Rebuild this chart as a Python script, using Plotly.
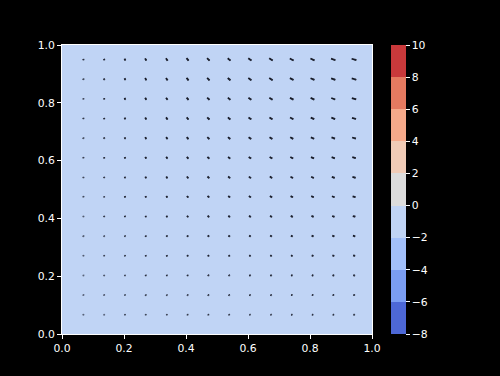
import plotly.graph_objects as go

# ---- data ----
# filled-contour field value (uniform band between -2 and 0)
field_x = [0.0, 1.0]
field_y = [0.0, 1.0]
field_z = [[-1.0, -1.0], [-1.0, -1.0]]

level_bounds = [-8, -6, -4, -2, 0, 2, 4, 6, 8, 10]
level_colors = ["#4d68d6", "#7b9ef2", "#a2c0fa", "#c0d4f5", "#dcdcdc",
                "#f0cbb6", "#f5a98a", "#e57a60", "#c9393b"]
cbar_ticks = [-8, -6, -4, -2, 0, 2, 4, 6, 8, 10]
axis_ticks = [0.0, 0.2, 0.4, 0.6, 0.8, 1.0]

# quiver grid (arrow centres)
grid_x = [0.069, 0.136, 0.203, 0.270, 0.338, 0.405, 0.472,
          0.539, 0.606, 0.674, 0.741, 0.808, 0.875, 0.942]
grid_y = [0.067, 0.135, 0.203, 0.271, 0.339, 0.407, 0.475,
          0.542, 0.610, 0.678, 0.746, 0.814, 0.882, 0.950]

# vector components, rows from bottom (y=0.067) to top (y=0.95)
u = [
    [0.0, 0.1, 0.2, 0.2, 0.3, 0.4, 0.5, 0.6, 0.6, 0.7, 0.8, 0.8, 0.9, 1.0],
    [0.1, 0.1, 0.2, 0.3, 0.4, 0.5, 0.6, 0.7, 0.8, 0.9, 1.0, 1.0, 1.1, 1.2],
    [0.1, 0.1, 0.2, 0.4, 0.5, 0.6, 0.8, 0.8, 1.0, 1.1, 1.1, 1.2, 1.3, 1.4],
    [0.1, 0.2, 0.3, 0.5, 0.6, 0.8, 1.0, 1.1, 1.2, 1.3, 1.4, 1.6, 1.7, 1.8],
    [0.1, 0.2, 0.4, 0.5, 0.8, 0.9, 1.1, 1.3, 1.4, 1.6, 1.7, 1.8, 2.0, 2.2],
    [0.1, 0.2, 0.4, 0.6, 0.9, 1.1, 1.3, 1.5, 1.7, 1.8, 2.0, 2.1, 2.3, 2.5],
    [0.1, 0.2, 0.5, 0.7, 1.0, 1.3, 1.5, 1.7, 1.9, 2.1, 2.3, 2.5, 2.6, 2.9],
    [0.1, 0.3, 0.5, 0.8, 1.1, 1.4, 1.7, 1.9, 2.1, 2.3, 2.5, 2.7, 2.9, 3.2],
    [0.1, 0.3, 0.6, 0.9, 1.2, 1.5, 1.8, 2.0, 2.3, 2.6, 2.8, 3.0, 3.2, 3.5],
    [0.2, 0.3, 0.6, 1.0, 1.4, 1.7, 2.0, 2.2, 2.6, 2.8, 3.0, 3.3, 3.5, 3.8],
    [0.2, 0.3, 0.7, 1.0, 1.5, 1.8, 2.2, 2.4, 2.8, 3.0, 3.3, 3.5, 3.8, 4.1],
    [0.2, 0.4, 0.7, 1.1, 1.5, 1.9, 2.3, 2.5, 2.9, 3.2, 3.5, 3.7, 4.0, 4.4],
    [0.2, 0.4, 0.8, 1.2, 1.6, 2.0, 2.4, 2.7, 3.1, 3.4, 3.6, 3.9, 4.2, 4.6],
    [0.2, 0.4, 0.8, 1.2, 1.7, 2.1, 2.5, 2.8, 3.2, 3.5, 3.8, 4.1, 4.4, 4.8],
]
v = [
    [-0.2, -0.2, -0.4, -0.4, -0.5, -0.5, -0.5, -0.5, -0.4, -0.4, -0.4, -0.4, -0.3, -0.3],
    [-0.2, -0.3, -0.5, -0.6, -0.6, -0.6, -0.6, -0.6, -0.6, -0.6, -0.5, -0.5, -0.4, -0.4],
    [-0.2, -0.4, -0.5, -0.7, -0.7, -0.8, -0.8, -0.7, -0.7, -0.7, -0.6, -0.5, -0.5, -0.4],
    [-0.3, -0.5, -0.7, -0.8, -0.9, -1.0, -1.0, -0.9, -0.8, -0.8, -0.8, -0.7, -0.6, -0.5],
    [-0.4, -0.5, -0.8, -1.0, -1.1, -1.1, -1.1, -1.1, -1.0, -1.0, -0.9, -0.8, -0.7, -0.6],
    [-0.4, -0.6, -0.9, -1.1, -1.2, -1.3, -1.3, -1.2, -1.1, -1.1, -1.0, -0.9, -0.8, -0.7],
    [-0.5, -0.7, -1.1, -1.3, -1.4, -1.5, -1.5, -1.4, -1.3, -1.3, -1.2, -1.1, -1.0, -0.8],
    [-0.5, -0.8, -1.2, -1.5, -1.6, -1.7, -1.7, -1.6, -1.5, -1.5, -1.3, -1.2, -1.1, -0.9],
    [-0.6, -0.9, -1.3, -1.6, -1.8, -1.8, -1.8, -1.8, -1.6, -1.6, -1.5, -1.3, -1.2, -1.0],
    [-0.6, -1.0, -1.4, -1.8, -1.9, -2.0, -2.0, -1.9, -1.8, -1.8, -1.6, -1.4, -1.3, -1.1],
    [-0.7, -1.0, -1.5, -1.9, -2.1, -2.2, -2.2, -2.1, -1.9, -1.9, -1.7, -1.5, -1.4, -1.2],
    [-0.7, -1.1, -1.6, -2.0, -2.2, -2.3, -2.3, -2.2, -2.0, -2.0, -1.8, -1.6, -1.5, -1.3],
    [-0.8, -1.2, -1.7, -2.1, -2.3, -2.4, -2.4, -2.3, -2.1, -2.1, -1.9, -1.7, -1.5, -1.3],
    [-0.8, -1.2, -1.8, -2.2, -2.4, -2.5, -2.5, -2.4, -2.2, -2.2, -2.0, -1.8, -1.6, -1.4],
]

# ---- presentation ----
W, H = 500, 376
ML, MR, MT, MB = 62, 128, 45, 42
PW, PH = W - ML - MR, H - MT - MB
ARROW_SCALE = 1.0  # pixels per vector unit
FONT = dict(family="DejaVu Sans", size=10.8, color="white")

# stepped colour scale
zmin, zmax = level_bounds[0], level_bounds[-1]
colorscale = []
for i, c in enumerate(level_colors):
    a = (level_bounds[i] - zmin) / (zmax - zmin)
    b = (level_bounds[i + 1] - zmin) / (zmax - zmin)
    colorscale.append([a, c])
    colorscale.append([b, c])

fig = go.Figure()
fig.add_trace(go.Heatmap(
    x=field_x, y=field_y, z=field_z, zmin=zmin, zmax=zmax,
    colorscale=colorscale, hoverinfo="skip",
    colorbar=dict(
        x=(391 - ML) / PW, xanchor="left", xref="paper", xpad=0,
        y=0.5, yanchor="middle", len=1.0, lenmode="fraction", ypad=0,
        thickness=15, outlinewidth=0,
        tickvals=cbar_ticks, ticks="outside", ticklen=4, tickwidth=1,
        tickcolor="white", tickfont=FONT,
    ),
))

# arrows: line segments centred on grid points
lx, ly, hx, hy = [], [], [], []
for j, yy in enumerate(grid_y):
    for i, xx in enumerate(grid_x):
        dx = u[j][i] * ARROW_SCALE / PW
        dy = v[j][i] * ARROW_SCALE / PH
        lx += [xx - dx / 2, xx + dx / 2, None]
        ly += [yy - dy / 2, yy + dy / 2, None]
        hx.append(xx + dx / 4)
        hy.append(yy + dy / 4)

fig.add_trace(go.Scatter(x=lx, y=ly, mode="lines",
                         line=dict(color="#141824", width=1.8),
                         hoverinfo="skip", showlegend=False))
fig.add_trace(go.Scatter(x=hx, y=hy, mode="markers",
                         marker=dict(color="#2a2f40", size=2.0, opacity=0.6,
                                     line=dict(width=0)),
                         hoverinfo="skip", showlegend=False))

axis_common = dict(
    range=[0, 1], tickvals=axis_ticks, tickformat=".1f",
    showgrid=False, zeroline=False, showline=True, linecolor="white",
    linewidth=1, mirror=True, ticks="outside", ticklen=4, tickwidth=1,
    tickcolor="white", tickfont=FONT,
)
fig.update_xaxes(**axis_common)
fig.update_yaxes(**axis_common)

fig.update_layout(
    width=W, height=H,
    margin=dict(l=ML, r=MR, t=MT, b=MB, pad=0),
    paper_bgcolor="black", plot_bgcolor="black",
    showlegend=False, font=FONT,
)

fig.write_html("out.html")
